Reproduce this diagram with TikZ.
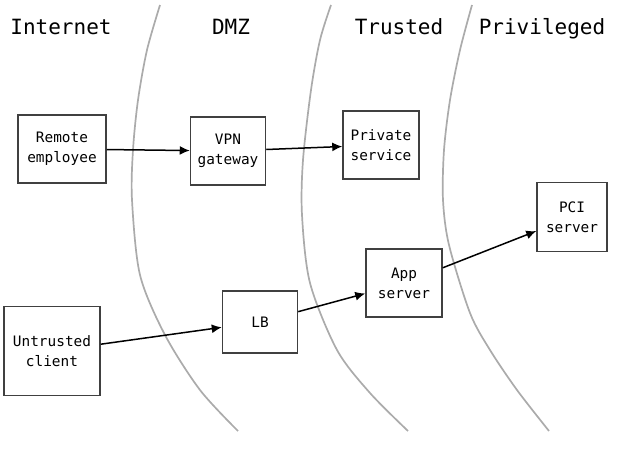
\documentclass[tikz,border=0pt]{standalone}
\usepackage{fontspec}
\setmonofont{DejaVu Sans Mono}
\usepackage{tikz}
\usetikzlibrary{arrows,arrows.meta,positioning}

\begin{document}
\begin{tikzpicture}[
    x=1pt, y=-1pt,
    >={Latex[length=10pt,width=9pt]},
    font=\ttfamily,
    zone/.style={
		draw=black!33,
		line width=1.7pt
	},
    host/.style={
		rectangle,
		draw=black!75,
		line width=1.5pt,
		align=center,
		inner sep=0pt,
		minimum width=75pt,
		minimum height=68pt,
		fill=white,
		font=\ttfamily\fontsize{14.4}{20}\selectfont
	},
	title/.style={
		anchor=base,
		font=\ttfamily\fontsize{21}{25}\selectfont
	},
	link/.style={
		->,
		line width=1.5pt
	}
  ]
  \useasboundingbox (0,0) rectangle (634,450);

  % The zone borders first
  \draw [zone] plot [smooth] coordinates {(160,5) (147,50) (138,100) (133,150) (132,200) (140,275) (165,335) (200,390) (238,431)};
  \draw [zone] plot [smooth] coordinates {(331,5) (320,40) (311,90) (303,160) (302,215) (310,283) (337,350) (370,393) (408,431)};
  \draw [zone] plot [smooth] coordinates {(472,5) (460,50) (450,100) (444,150) (443,200) (449,245) (470,313) (490,350) (517,390) (549,431)};

  \node [title] (internet) at (61,34) {Internet};
  \node [title] (dmz) at (231,34) {DMZ};
  \node [title] (trusted) at (399,34) {Trusted};
  \node [title] (privileged) at (542,34) {Privileged};

  % We start by placing the blocks
  \node [host, minimum width=88pt] (remote) at (62,149) {Remote\\employee};
  \node [host] (vpn) at (228,151) {VPN\\gateway};
  \node [host, minimum width=76pt] (private) at (381,145) {Private\\service};
  \node [host, minimum width=70pt, minimum height=69pt] (pci) at (572,217) {PCI\\server};
  \node [host, minimum width=76pt] (app) at (404,283) {App\\server};
  \node [host, minimum height=62pt] (lb) at (260,322) {LB};
  \node [host, minimum width=96pt, minimum height=89pt] (client) at (52,351) {Untrusted\\client};

  \draw [link] (remote) -- (vpn);
  \draw [link] (vpn) -- (private);
  \draw [link] (client) -- (lb);
  \draw [link] (lb) -- (app);
  \draw [link] (app) -- (pci);

\end{tikzpicture}
\end{document}
